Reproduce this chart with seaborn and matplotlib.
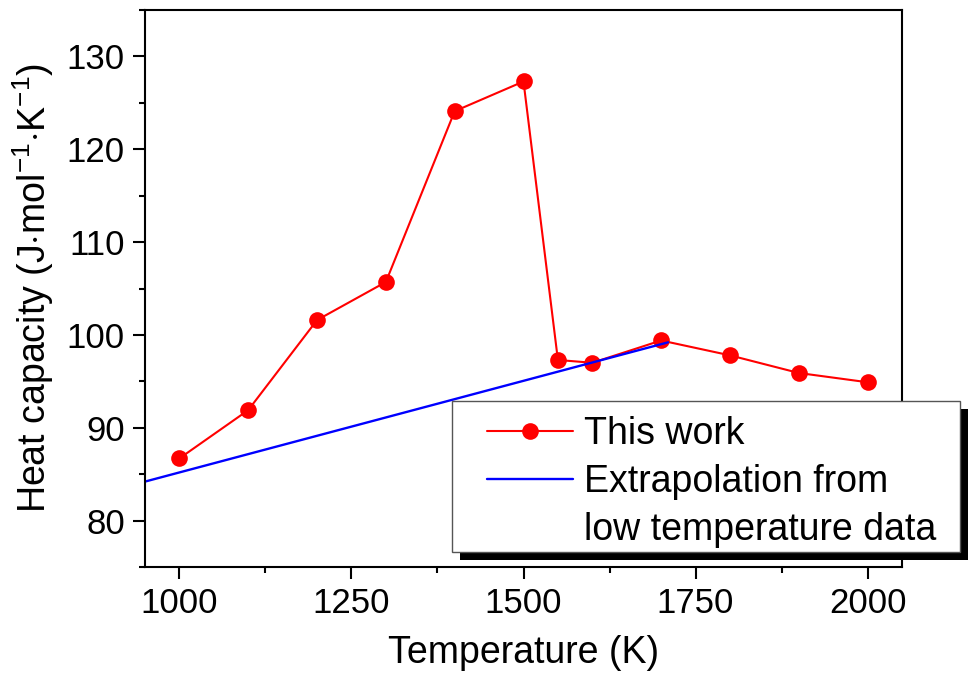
import matplotlib
matplotlib.use("Agg")
import matplotlib.pyplot as plt
import matplotlib.patches as mpatches
from matplotlib.lines import Line2D
from matplotlib.ticker import MultipleLocator
import seaborn as sns
import pandas as pd

# Data
temp_this = [1000, 1100, 1200, 1300, 1400, 1500, 1550, 1600, 1700, 1800, 1900, 2000]
cp_this = [86.7, 91.9, 101.6, 105.7, 124.1, 127.3, 97.3, 97.0, 99.4, 97.8, 95.9, 94.9]
temp_extrap = [950, 1710]
cp_extrap = [84.2, 99.2]
legend_labels = ["This work", "Extrapolation from", "low temperature data"]

sns.set_theme(style="ticks")
plt.rcParams['font.family'] = ['Liberation Sans', 'DejaVu Sans']
plt.rcParams['mathtext.fontset'] = 'custom'
plt.rcParams['mathtext.rm'] = 'Liberation Sans'
plt.rcParams['mathtext.it'] = 'Liberation Sans:italic'
plt.rcParams['mathtext.bf'] = 'Liberation Sans:bold'
plt.rcParams['text.color'] = 'black'
plt.rcParams['axes.labelcolor'] = 'black'
plt.rcParams['xtick.color'] = 'black'
plt.rcParams['ytick.color'] = 'black'

fig = plt.figure(figsize=(9.68, 6.78), dpi=100)
ax = fig.add_axes([145/968, 1-567/678, (902-145)/968, (567-10)/678])

df1 = pd.DataFrame({"T": temp_this, "Cp": cp_this})
df2 = pd.DataFrame({"T": temp_extrap, "Cp": cp_extrap})

sns.lineplot(data=df1, x="T", y="Cp", ax=ax, color="#ff0000", marker="o",
             markersize=12, markeredgewidth=0, linewidth=1.5, label=legend_labels[0])
sns.lineplot(data=df2, x="T", y="Cp", ax=ax, color="#0000ff", linewidth=1.7,
             label=legend_labels[1])

ax.set_xlim(950, 2050)
ax.set_ylim(75, 135)
ax.xaxis.set_major_locator(MultipleLocator(250))
ax.xaxis.set_minor_locator(MultipleLocator(125))
ax.yaxis.set_major_locator(MultipleLocator(10))
ax.yaxis.set_minor_locator(MultipleLocator(5))

for s in ax.spines.values():
    s.set_linewidth(1.5)
    s.set_color('black')
ax.tick_params(axis='both', which='major', direction='out', length=8.5, width=1.5,
               labelsize=25, colors='black', pad=6)
ax.tick_params(axis='both', which='minor', direction='out', length=4.3, width=1.5)
ax.tick_params(top=False, right=False, which='both')

ax.set_xlabel("Temperature (K)", fontsize=27, labelpad=11)
ax.set_ylabel(r"Heat capacity (J$\cdot$mol$^{-1}$$\cdot$K$^{-1}$)", fontsize=27, labelpad=8)

# Legend (frame drawn separately with a solid black shadow)
handles, labels = ax.get_legend_handles_labels()
handles.append(Line2D([], [], color='none'))
labels.append(legend_labels[2])
leg = ax.legend(handles, labels, loc='upper left',
                bbox_to_anchor=((487-145)/757, (567-416)/557),
                fontsize=27, frameon=False, handlelength=2.3, handletextpad=0.3,
                labelspacing=0.32, borderpad=0, borderaxespad=0)
leg.set_zorder(7)

x0, y0 = (452-145)/757, (567-552)/557
w, h = (960-452)/757, (552-401)/557
shadow = mpatches.Rectangle((x0 + 8/757, y0 - 8/557), w, h, transform=ax.transAxes,
                            facecolor='black', edgecolor='none', zorder=5.8, clip_on=False)
frame = mpatches.Rectangle((x0, y0), w, h, transform=ax.transAxes,
                           facecolor='white', edgecolor='#555555', linewidth=1.0,
                           zorder=5.9, clip_on=False)
ax.add_artist(shadow)
ax.add_artist(frame)

fig.savefig("out.png", dpi=100)
